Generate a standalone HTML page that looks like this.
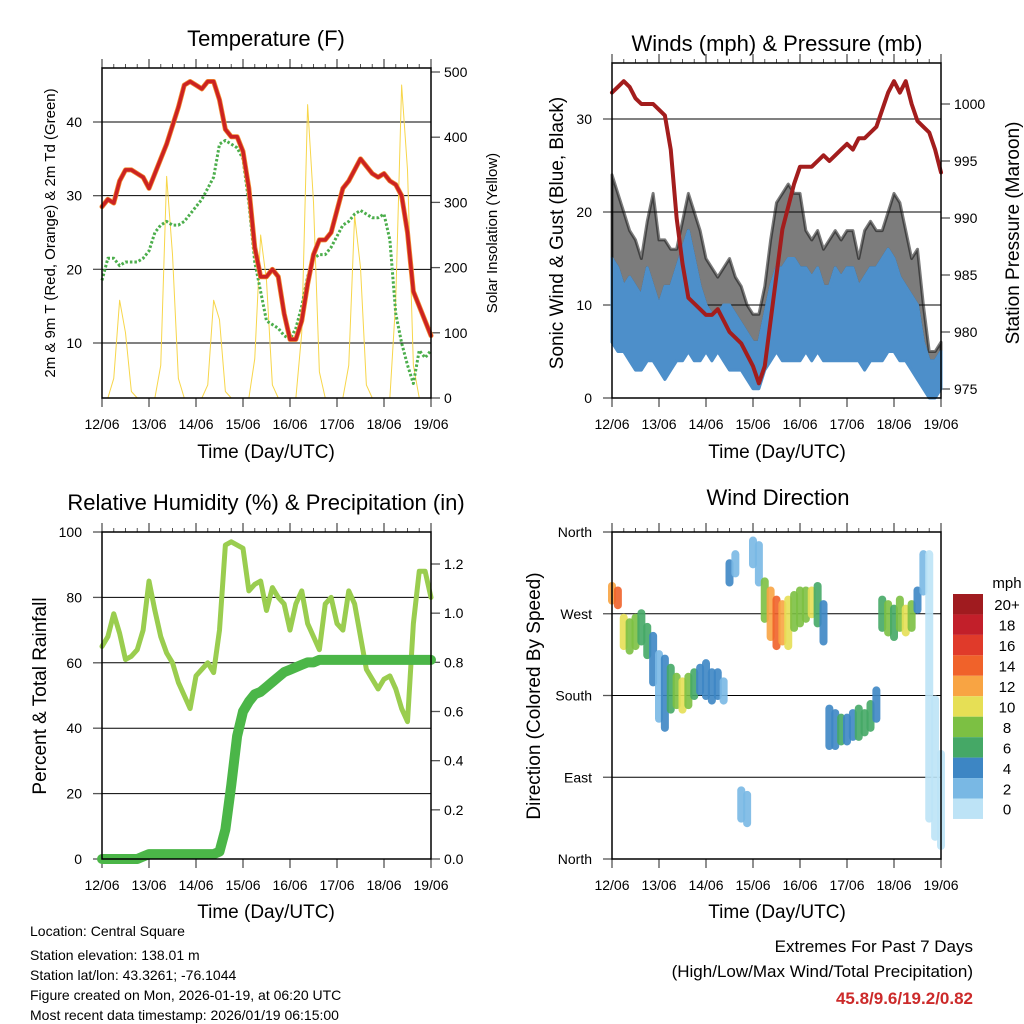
<!DOCTYPE html>
<html><head><meta charset="utf-8"><style>
html,body{margin:0;padding:0;background:#fff;}
svg{display:block;font-family:"Liberation Sans",sans-serif;}
</style></head><body>
<svg id="svg" width="1024" height="1024" viewBox="0 0 1024 1024" xmlns="http://www.w3.org/2000/svg">
<rect width="1024" height="1024" fill="#fff"/>
<text x="266" y="46" font-size="22" text-anchor="middle">Temperature (F)</text>
<text x="777" y="51" font-size="22" text-anchor="middle">Winds (mph) &amp; Pressure (mb)</text>
<text x="266" y="510" font-size="22" text-anchor="middle">Relative Humidity (%) &amp; Precipitation (in)</text>
<text x="778" y="505" font-size="22" text-anchor="middle">Wind Direction</text>
<text x="266" y="458" font-size="19" text-anchor="middle">Time (Day/UTC)</text>
<text x="777" y="458" font-size="19" text-anchor="middle">Time (Day/UTC)</text>
<text x="266" y="918" font-size="19" text-anchor="middle">Time (Day/UTC)</text>
<text x="777" y="918" font-size="19" text-anchor="middle">Time (Day/UTC)</text>
<text transform="translate(55,233) rotate(-90)" font-size="15" text-anchor="middle">2m &amp; 9m T (Red, Orange) &amp; 2m Td (Green)</text>
<text transform="translate(497,233) rotate(-90)" font-size="15" text-anchor="middle">Solar Insolation (Yellow)</text>
<text transform="translate(563,233) rotate(-90)" font-size="19" text-anchor="middle">Sonic Wind &amp; Gust (Blue, Black)</text>
<text transform="translate(1019,233) rotate(-90)" font-size="19" text-anchor="middle">Station Pressure (Maroon)</text>
<text transform="translate(46,696) rotate(-90)" font-size="19" text-anchor="middle">Percent &amp; Total Rainfall</text>
<text transform="translate(540,696) rotate(-90)" font-size="19" text-anchor="middle">Direction (Colored By Speed)</text>
<g font-size="14">
<text x="30" y="936">Location: Central Square</text>
<text x="30" y="960">Station elevation: 138.01 m</text>
<text x="30" y="980">Station lat/lon: 43.3261; -76.1044</text>
<text x="30" y="1000">Figure created on Mon, 2026-01-19, at 06:20 UTC</text>
<text x="30" y="1020">Most recent data timestamp: 2026/01/19 06:15:00</text>
</g>
<text x="973" y="952" font-size="17" text-anchor="end">Extremes For Past 7 Days</text>
<text x="973" y="977" font-size="17" text-anchor="end">(High/Low/Max Wind/Total Precipitation)</text>
<text x="973" y="1004" font-size="17" font-weight="bold" fill="#cc2a2a" text-anchor="end">45.8/9.6/19.2/0.82</text>
</svg>
<script>
const days=["12/06","13/06","14/06","15/06","16/06","17/06","18/06","19/06"];
const temp=[28.5,29.5,29,32,33.5,33.5,33,32.5,31,33,35,37,39.5,42,45,45.5,45,44.5,45.5,45.5,43,39,38,38,36,31,23,19,19,20,19,14,10.5,10.5,13,18,22,24,24,25,28,31,32,33.5,35,34,33,32.5,33,32,31.5,30,25,17,15,13,11];
const dew=[18.5,21.5,21.5,20.5,21,21,21,21.5,22.5,25,26,26.5,26,26,26.5,27.5,28.5,29.5,31,32.5,37,37.5,37,36.5,35,29,21,17,13,12.5,12,11,10.5,12,15,19,21.5,22,22,23,24.5,26,26.5,27.5,28,27.5,27,27,27.5,24,14,10,7,4.5,9,8,9];
const solar=[0,0,30,150,100,10,0,0,0,0,50,340,220,30,0,0,0,0,20,150,120,10,0,0,0,0,60,250,180,20,0,0,0,0,100,450,300,40,0,0,0,0,50,280,200,20,0,0,0,0,150,480,350,50,0,0,0];
const pressure=[1001,1001.5,1002,1001.5,1000.5,1000,1000,1000,999.5,999,996,990,986,983,982.5,982,981.5,981.5,982,981,980,979.5,979,978,977,975.5,977,981,985,989,991,993,994.5,994.5,994.5,995,995.5,995,995.5,996,996.5,996,997,997,997.5,998,999.5,1001,1002,1001,1002,1000,998.5,998,997.5,996,994];
const windLo=[6,5,5,4,3,3,4,4,3,2,3,4,4,5,4,4,5,4,5,4,3,3,3,2,1,1,3,4,5,4,4,4,4,5,4,5,4,4,4,4,4,4,4,3,4,4,4,5,5,4,4,3,2,1,0,0,1];
const windHi=[15,14,12,13,12,11,14,12,10,12,12,14,16,18,15,12,10,9,9,10,10,9,8,7,6,6,9,12,14,14,15,15,14,14,13,14,12,12,14,13,14,14,12,13,14,14,15,16,15,13,12,11,10,6,4,4,5];
const gustHi=[24,22,20,18,17,15,19,22,17,17,16,16,19,22,20,18,15,14,13,14,15,13,12,10,9,9,12,17,21,22,23,22,22,18,17,18,16,17,18,17,18,18,15,18,19,18,18,20,22,21,18,15,16,10,5,5,6];
const dirLo=[280,275,230,225,230,235,220,190,150,140,160,165,160,165,175,180,175,170,175,170,300,310,40,35,320,300,260,240,230,235,230,250,255,260,265,255,235,120,120,125,125,130,130,135,140,150,250,245,240,250,245,250,270,290,40,20,10];
const dirHi=[305,300,270,265,270,275,260,250,230,225,215,205,200,205,210,215,220,210,210,200,330,340,80,75,355,350,310,300,290,285,290,295,300,300,300,305,285,170,165,160,160,165,170,165,175,190,290,285,280,290,280,285,300,340,340,180,120];
const dirSpeed=[12,14,10,9,8,7,6,4,3,4,6,9,10,9,7,5,5,4,4,3,4,3,3,3,2,3,8,12,14,12,10,8,8,9,10,7,5,4,5,6,5,5,6,7,6,5,6,8,7,8,10,8,5,2,1,1,1];
const rh=[65,68,75,69,61,62,64,70,85,76,68,63,60,54,50,46,56,58,60,57,70,96,97,96,95,82,84,85,76,83,80,78,70,78,82,72,68,64,78,80,72,70,82,78,68,58,55,52,55,56,52,46,42,72,88,88,80];
const precip=[0,0,0,0,0,0,0,0.01,0.02,0.02,0.02,0.02,0.02,0.02,0.02,0.02,0.02,0.02,0.02,0.02,0.03,0.12,0.3,0.5,0.6,0.64,0.67,0.68,0.7,0.72,0.74,0.76,0.77,0.78,0.79,0.8,0.8,0.81,0.81,0.81,0.81,0.81,0.81,0.81,0.81,0.81,0.81,0.81,0.81,0.81,0.81,0.81,0.81,0.81,0.81,0.81,0.81];
const tempTicks=[10,20,30,40];
const solarTicks=[0,100,200,300,400,500];
const windTicks=[0,10,20,30];
const presTicks=[975,980,985,990,995,1000];
const rhTicks=[0,20,40,60,80,100];
const precipTicks=[0,0.2,0.4,0.6,0.8,1.0,1.2];
const dirTicks=[0,90,180,270,360];
const dirLabels=["North","East","South","West","North"];
const cbLabels=["20+","18","16","14","12","10","8","6","4","2","0"];
const cbColors=["#a01b1f","#c21f2a","#e03a2a","#f0622a","#f8a443","#e6df55","#7cc043","#45a866","#3d86c4","#79b8e4","#bde3f6"];

const NS="http://www.w3.org/2000/svg";
const svg=document.getElementById('svg');
function mk(tag,attrs,parent){const e=document.createElementNS(NS,tag);for(const k in attrs)e.setAttribute(k,attrs[k]);(parent||svg).appendChild(e);return e;}
function lin(d0,d1,r0,r1){return v=>r0+(v-d0)*(r1-r0)/(d1-d0);}
const tIdx=i=>i/8;

function frame(name,L,T,R,B,xs,yl,ylTicks,ylFmt,yr,yrTicks,yrFmt,grid){
  const g=mk('g',{});
  
  
  if(grid){for(const v of grid.ticks){const gl=mk('line',{x1:L,x2:R,y1:grid.s(v),y2:grid.s(v),stroke:'#000','stroke-width':1},g);}}
  for(let d=0;d<=7;d++){const x=xs(d);
    mk('line',{x1:x,x2:x,y1:B,y2:B+9,stroke:'#555','stroke-width':1.3},g);
    mk('line',{x1:x,x2:x,y1:T,y2:T-9,stroke:'#555','stroke-width':1.3},g);
    const t=mk('text',{x:x,y:B+31,'font-size':14,'text-anchor':'middle'},g);t.textContent=days[d];
    
    if(d<7)for(let q=1;q<4;q++){const xm=xs(d+q/4);mk('line',{x1:xm,x2:xm,y1:T,y2:T-4,stroke:'#555'},g);}
  }
  for(let i=0;i<ylTicks.length;i++){const v=ylTicks[i],y=yl(v);
    mk('line',{x1:L,x2:L-9,y1:y,y2:y,stroke:'#555','stroke-width':1.3},g);
    const t=mk('text',{x:L-20,y:y+5,'font-size':14,'text-anchor':'end'},g);t.textContent=ylFmt(v,i);
    }
  if(yr)for(const v of yrTicks){const y=yr(v);
    mk('line',{x1:R,x2:R+9,y1:y,y2:y,stroke:'#555','stroke-width':1.3},g);
    const t=mk('text',{x:R+13,y:y+5,'font-size':14},g);t.textContent=yrFmt(v);
    }
  return g;
}
function border(name,L,T,R,B){const r=mk('rect',{x:L,y:T,width:R-L,height:B-T,fill:'none',stroke:'#000','stroke-width':1.5});}
function poly(arr,xs,ys,attrs,name){const p=mk('polyline',Object.assign({fill:'none','stroke-linejoin':'round','stroke-linecap':'round',points:arr.map((v,i)=>xs(tIdx(i))+','+ys(v)).join(' ')},attrs));return p;}
function band(lo,hi,xs,ys,fill,op,name){const pts=lo.map((v,i)=>xs(tIdx(i))+','+ys(v)).concat(hi.map((v,i)=>[i,v]).reverse().map(a=>xs(tIdx(a[0]))+','+ys(a[1])));const p=mk('polygon',{points:pts.join(' '),fill:fill,'fill-opacity':op,stroke:fill,'stroke-opacity':op,'stroke-width':3,'stroke-linejoin':'round'});}

// Panel 1: temperature
{const L=102,T=68,R=431,B=398;const xs=lin(0,7,L,R);const yT=lin(10,40,343,122);const yS=lin(0,500,398,72);
frame('temperature',L,T,R,B,xs,yT,tempTicks,v=>v,yS,solarTicks,v=>v,{ticks:tempTicks,s:yT});
poly(solar,xs,yS,{stroke:'#f7d64a','stroke-width':1},'solar-line');
poly(dew,xs,yT,{stroke:'#4cae4c','stroke-width':3,'stroke-dasharray':'2.5 2','stroke-linecap':'butt'},'dewpoint-line');
poly(temp,xs,yT,{stroke:'#f08a30','stroke-width':5},'temp-9m-line');
poly(temp,xs,yT,{stroke:'#cc2222','stroke-width':3.5},'temp-2m-line');
border('temperature',L,T,R,B);}

// Panel 2: winds
{const L=612,T=63,R=941,B=398;const xs=lin(0,7,L,R);const yW=lin(0,30,398,119);const yP=lin(975,1000,389,104);
frame('winds',L,T,R,B,xs,yW,windTicks,v=>v,yP,presTicks,v=>v,{ticks:[10,20,30],s:yW});
band(windHi,gustHi,xs,yW,'#111',0.55,'gust-band');
band(windLo,windHi,xs,yW,'#4d8fca',1,'wind-band');
poly(pressure,xs,yP,{stroke:'#a31d1d','stroke-width':4},'pressure-line');
border('winds',L,T,R,B);}

// Panel 3: RH & precip
{const L=102,T=532,R=431,B=859;const xs=lin(0,7,L,R);const yR=lin(0,100,859,532);const yQ=lin(0,1.2,859,564);
frame('humidity',L,T,R,B,xs,yR,rhTicks,v=>v,yQ,precipTicks,v=>v.toFixed(1),{ticks:[20,40,60,80],s:yR});
poly(rh,xs,yR,{stroke:'#9acd4f','stroke-width':5},'rh-line');
poly(precip,xs,yQ,{stroke:'#4bb648','stroke-width':10},'precip-line');
border('humidity',L,T,R,B);}

// Panel 4: direction
{const L=612,T=532,R=941,B=859;const xs=lin(0,7,L,R);const yD=lin(0,360,859,532);
frame('direction',L,T,R,B,xs,yD,dirTicks,(v,i)=>dirLabels[i],null,null,null,{ticks:[90,180,270],s:yD});
for(let i=0;i<dirLo.length;i++){const c=cbColors[10-Math.min(10,Math.floor(dirSpeed[i]/2))];
  const y1=yD(dirHi[i]),y2=yD(dirLo[i]);
  const r=mk('rect',{x:xs(tIdx(i))-4,y:y1,width:8,height:Math.max(4,y2-y1),rx:4,fill:c,opacity:0.9});
  
  }
border('direction',L,T,R,B);}

// Colorbar
{const cx=953,cy=594,h=20.45;
const t=mk('text',{x:1007,y:588,'font-size':15,'text-anchor':'middle'});t.textContent='mph';


for(let i=0;i<cbColors.length;i++){const r=mk('rect',{x:cx,y:cy+i*h,width:30,height:h,fill:cbColors[i]});
  
  
  const l=mk('text',{x:1007,y:cy+i*h+h/2+6,'font-size':15,'text-anchor':'middle'});l.textContent=cbLabels[i];
  
  }}
</script>
</body></html>
